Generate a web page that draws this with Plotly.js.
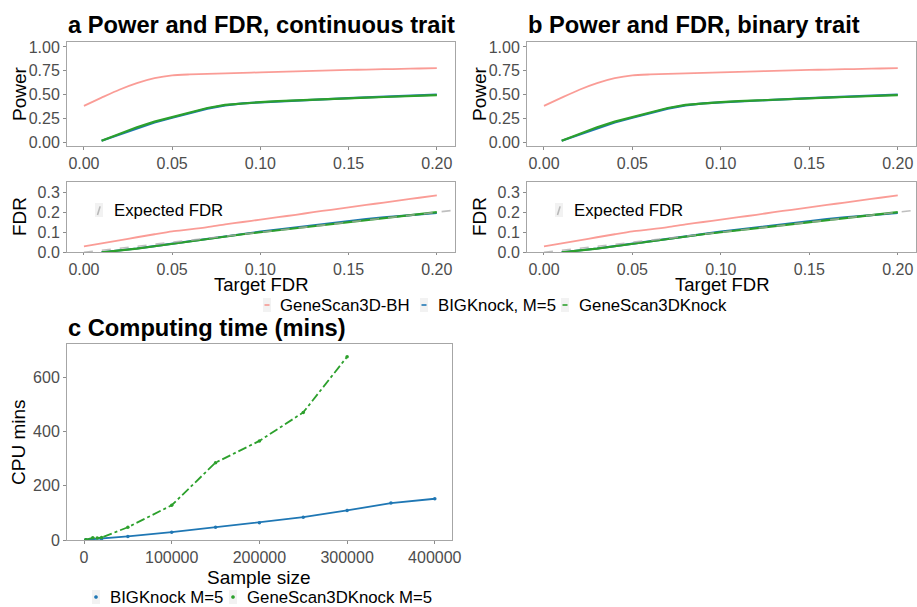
<!DOCTYPE html>
<html>
<head>
<meta charset="utf-8">
<script src="https://cdn.plot.ly/plotly-3.0.1.min.js"></script>
<style>html,body{margin:0;padding:0;background:#fff;}#chart{width:917px;height:607px;}</style>
</head>
<body>
<div id="chart"></div>
<script>
// ---------- Data ----------
const targetFDR = [0.00,0.01,0.02,0.03,0.04,0.05,0.06,0.07,0.08,0.09,0.10,0.11,0.12,0.13,0.14,0.15,0.16,0.17,0.18,0.19,0.20];
const knockFDR  = [0.01,0.02,0.03,0.04,0.05,0.06,0.07,0.08,0.09,0.10,0.11,0.12,0.13,0.14,0.15,0.16,0.17,0.18,0.19,0.20];

// Panel a (continuous trait)
const powerBH_a    = [0.385,0.47,0.553,0.622,0.674,0.704,0.713,0.719,0.724,0.729,0.735,0.74,0.745,0.75,0.755,0.76,0.764,0.768,0.771,0.775,0.778];
const powerBIG_a   = [0.02,0.085,0.15,0.21,0.26,0.31,0.355,0.39,0.41,0.422,0.432,0.442,0.45,0.458,0.466,0.473,0.48,0.487,0.494,0.502];
const powerGS3D_a  = [0.02,0.09,0.16,0.22,0.27,0.32,0.362,0.395,0.412,0.423,0.433,0.442,0.45,0.458,0.465,0.471,0.477,0.483,0.489,0.496];
const fdrBH_a      = [0.03,0.045,0.06,0.075,0.09,0.104,0.114,0.125,0.139,0.151,0.163,0.175,0.187,0.2,0.212,0.224,0.236,0.248,0.26,0.272,0.284];
const fdrBIG_a     = [0.0,0.009,0.019,0.031,0.043,0.056,0.069,0.081,0.092,0.103,0.113,0.124,0.135,0.146,0.156,0.165,0.174,0.182,0.189,0.196];
const fdrGS3D_a    = [0.0,0.008,0.018,0.03,0.042,0.055,0.068,0.08,0.09,0.1,0.11,0.12,0.13,0.14,0.15,0.16,0.17,0.18,0.19,0.2];

// Panel b (binary trait)
const powerBH_b    = [0.385,0.47,0.553,0.622,0.674,0.704,0.713,0.719,0.724,0.729,0.735,0.74,0.745,0.75,0.755,0.76,0.764,0.768,0.771,0.775,0.778];
const powerBIG_b   = [0.02,0.085,0.15,0.21,0.26,0.31,0.355,0.39,0.41,0.422,0.432,0.442,0.45,0.458,0.466,0.473,0.48,0.487,0.494,0.502];
const powerGS3D_b  = [0.02,0.09,0.16,0.22,0.27,0.32,0.362,0.395,0.412,0.423,0.433,0.442,0.45,0.458,0.465,0.471,0.477,0.483,0.489,0.496];
const fdrBH_b      = [0.03,0.045,0.06,0.075,0.09,0.104,0.114,0.125,0.139,0.151,0.163,0.175,0.187,0.2,0.212,0.224,0.236,0.248,0.26,0.272,0.284];
const fdrBIG_b     = [0.0,0.009,0.019,0.031,0.043,0.056,0.069,0.081,0.092,0.103,0.113,0.124,0.135,0.146,0.156,0.165,0.174,0.182,0.189,0.196];
const fdrGS3D_b    = [0.0,0.008,0.018,0.03,0.042,0.055,0.068,0.08,0.09,0.1,0.11,0.12,0.13,0.14,0.15,0.16,0.17,0.18,0.19,0.2];

// Expected FDR reference line (y = x)
const expectedX = [0.0, 0.25];
const expectedY = [0.0, 0.25];

// Panel c (computing time)
const sizeBIG  = [2000,10000,20000,50000,100000,150000,200000,250000,300000,350000,400000];
const minsBIG  = [1,3,5,13,29,47,64,84,109,136,152];
const sizeGS3D = [2000,10000,15000,20000,50000,100000,150000,200000,250000,300000];
const minsGS3D = [1,8,7,9,47,128,285,365,470,675];

const seriesNames = ['GeneScan3D-BH','BIGKnock, M=5','GeneScan3DKnock'];
const timeNames = ['BIGKnock M=5','GeneScan3DKnock M=5'];
const expectedName = 'Expected FDR';

// ---------- Styles ----------
const cRed = 'rgba(248,118,109,0.72)';
const cBlue = '#1f77b4';
const cGreen = '#2ca02c';
const cGrey = 'rgba(170,170,170,0.75)';
const FONT = 'Liberation Sans, Arial, sans-serif';

const traces = [];
function panel(xa, ya, bhP, bigP, gsP) {
  traces.push({x: targetFDR, y: bhP, xaxis: xa, yaxis: ya, type: 'scatter', mode: 'lines', name: seriesNames[0],
    line: {color: cRed, width: 1.8, shape: 'spline', smoothing: 0.6}, showlegend: false});
  traces.push({x: knockFDR, y: bigP, xaxis: xa, yaxis: ya, type: 'scatter', mode: 'lines', name: seriesNames[1],
    line: {color: cBlue, width: 2.2}, showlegend: false});
  traces.push({x: knockFDR, y: gsP, xaxis: xa, yaxis: ya, type: 'scatter', mode: 'lines', name: seriesNames[2],
    line: {color: cGreen, width: 2.2}, showlegend: false});
}
function expected(xa, ya) {
  traces.push({x: expectedX, y: expectedY, xaxis: xa, yaxis: ya, type: 'scatter', mode: 'lines', name: expectedName,
    line: {color: cGrey, width: 1.6, dash: 'dash'}, showlegend: false});
}
panel('x', 'y', powerBH_a, powerBIG_a, powerGS3D_a);
panel('x2', 'y2', fdrBH_a, fdrBIG_a, fdrGS3D_a);
expected('x2', 'y2');
panel('x3', 'y3', powerBH_b, powerBIG_b, powerGS3D_b);
panel('x4', 'y4', fdrBH_b, fdrBIG_b, fdrGS3D_b);
expected('x4', 'y4');

traces.push({x: sizeBIG, y: minsBIG, xaxis: 'x5', yaxis: 'y5', type: 'scatter', mode: 'lines+markers', name: timeNames[0],
  line: {color: cBlue, width: 1.8}, marker: {color: cBlue, size: 3.5}, showlegend: false});
traces.push({x: sizeGS3D, y: minsGS3D, xaxis: 'x5', yaxis: 'y5', type: 'scatter', mode: 'lines+markers', name: timeNames[1],
  line: {color: cGreen, width: 1.8, dash: 'dashdot'}, marker: {color: cGreen, size: 3.5}, showlegend: false});

// ---------- Layout ----------
const W = 917, H = 607;
const px = (v) => v / W;
const py = (v) => 1 - v / H;

function axis(dom, range, extra) {
  return Object.assign({
    domain: dom, range: range, autorange: false,
    showline: true, mirror: true, linecolor: '#a6a6a6', linewidth: 1,
    showgrid: false, zeroline: false,
    ticks: 'outside', ticklen: 3, tickcolor: '#8c8c8c',
    tickfont: {family: FONT, size: 16, color: '#4d4d4d'}
  }, extra || {});
}
const xTickVals = [0, 0.05, 0.10, 0.15, 0.20];
const xa_dom = [px(67), px(455)];
const xb_dom = [px(527), px(916)];
const yP_dom = [py(146), py(42)];
const yF_dom = [py(252.3), py(181.7)];
const xRange = [-0.0096, 0.2103];

const annotations = [];
const shapes = [];
function txt(s, x, y, opts) {
  annotations.push(Object.assign({text: s, xref: 'paper', yref: 'paper', x: px(x), y: py(y),
    xanchor: 'center', yanchor: 'middle', showarrow: false, borderpad: 0,
    font: {family: FONT, size: 19, color: '#000'}}, opts || {}));
}
// panel titles
const tFont = {family: FONT, size: 23.7, color: '#000'};
txt('<b>a Power and FDR, continuous trait</b>', 67, 25, {xanchor: 'left', font: tFont});
txt('<b>b Power and FDR, binary trait</b>', 527, 25, {xanchor: 'left', font: tFont});
txt('<b>c Computing time (mins)</b>', 67, 328, {xanchor: 'left', font: tFont});
// axis titles
txt('Power', 19, 94, {textangle: -90});
txt('FDR', 19, 217, {textangle: -90});
txt('Power', 479, 94, {textangle: -90});
txt('FDR', 479, 217, {textangle: -90});
const xtFont = {family: FONT, size: 18.5, color: '#000'};
txt('Target FDR', 261, 284, {font: xtFont});
txt('Target FDR', 722, 284, {font: xtFont});
txt('CPU mins', 18, 442, {textangle: -90});
txt('Sample size', 259, 577);

// legends (ggplot-style small keys)
const legFont = {family: FONT, size: 16.8, color: '#000'};
function keyBox(cx, cy) {
  shapes.push({type: 'rect', xref: 'paper', yref: 'paper', x0: px(cx - 4), x1: px(cx + 4), y0: py(cy + 7), y1: py(cy - 7),
    fillcolor: '#f2f2f2', line: {width: 0}, layer: 'below'});
}
function keyLine(cx, cy, color) {
  keyBox(cx, cy);
  shapes.push({type: 'line', xref: 'paper', yref: 'paper', x0: px(cx - 2.5), x1: px(cx + 2.5), y0: py(cy), y1: py(cy),
    line: {color: color, width: 1.6}});
}
function keyDot(cx, cy, color) {
  keyBox(cx, cy);
  shapes.push({type: 'circle', xref: 'paper', yref: 'paper', x0: px(cx - 1.6), x1: px(cx + 1.6), y0: py(cy + 1.6), y1: py(cy - 1.6),
    fillcolor: color, line: {color: color, width: 0.5}});
}
function keyAbline(cx, cy) {
  keyBox(cx, cy);
  shapes.push({type: 'line', xref: 'paper', yref: 'paper', x0: px(cx - 1.5), x1: px(cx + 1.5), y0: py(cy + 5), y1: py(cy - 5),
    line: {color: 'rgba(170,170,170,0.8)', width: 1.6, dash: 'dash'}});
}
// main legend
const mainKeys = [[267, 279, cRed], [424, 437, cBlue], [565, 578, cGreen]];
mainKeys.forEach((k, i) => {
  keyLine(k[0], 305, k[2]);
  txt(seriesNames[i], k[1], 305, {xanchor: 'left', font: legFont});
});
// expected FDR legends
[[99, 113], [559, 573]].forEach(k => {
  keyAbline(k[0], 210);
  txt(expectedName, k[1], 210, {xanchor: 'left', font: legFont});
});
// panel c legend
const cKeys = [[96, 109, cBlue], [233, 246, cGreen]];
cKeys.forEach((k, i) => {
  keyDot(k[0], 597, k[2]);
  txt(timeNames[i], k[1], 597, {xanchor: 'left', font: legFont});
});

const layout = {
  width: W, height: H,
  margin: {l: 0, r: 0, t: 0, b: 0},
  paper_bgcolor: '#fff', plot_bgcolor: '#fff',
  font: {family: FONT},
  showlegend: false,
  xaxis:  axis(xa_dom, xRange, {anchor: 'y', tickvals: xTickVals, tickformat: '.2f'}),
  yaxis:  axis(yP_dom, [-0.035, 1.052], {anchor: 'x', tickvals: [0, 0.25, 0.5, 0.75, 1], tickformat: '.2f'}),
  xaxis2: axis(xa_dom, xRange, {anchor: 'y2', tickvals: xTickVals, tickformat: '.2f', ticklen: 2}),
  yaxis2: axis(yF_dom, [0, 0.352], {anchor: 'x2', tickvals: [0, 0.1, 0.2, 0.3], tickformat: '.1f'}),
  xaxis3: axis(xb_dom, xRange, {anchor: 'y3', tickvals: xTickVals, tickformat: '.2f'}),
  yaxis3: axis(yP_dom, [-0.035, 1.052], {anchor: 'x3', tickvals: [0, 0.25, 0.5, 0.75, 1], tickformat: '.2f'}),
  xaxis4: axis(xb_dom, xRange, {anchor: 'y4', tickvals: xTickVals, tickformat: '.2f', ticklen: 2}),
  yaxis4: axis(yF_dom, [0, 0.352], {anchor: 'x4', tickvals: [0, 0.1, 0.2, 0.3], tickformat: '.1f'}),
  xaxis5: axis([px(67), px(452)], [-19400, 419600], {anchor: 'y5', tickvals: [0, 100000, 200000, 300000, 400000], tickformat: 'd'}),
  yaxis5: axis([py(540), py(344)], [0, 722], {anchor: 'x5', tickvals: [0, 200, 400, 600], tickformat: 'd'}),
  annotations: annotations,
  shapes: shapes
};

Plotly.newPlot('chart', traces, layout, {displayModeBar: false, staticPlot: true});
</script>
</body>
</html>
